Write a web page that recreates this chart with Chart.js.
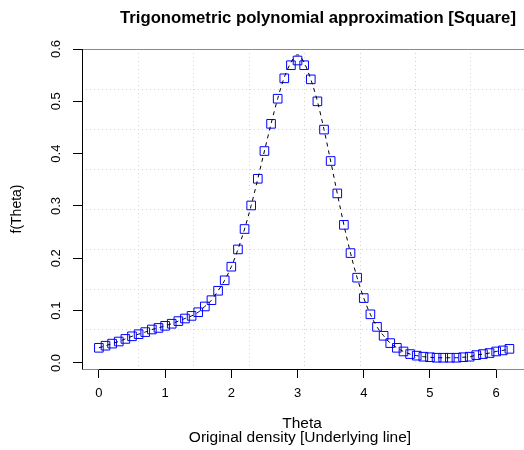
<!DOCTYPE html>
<html>
<head>
<meta charset="utf-8">
<script src="https://cdn.jsdelivr.net/npm/chart.js@4"></script>
<style>
  body { margin: 0; background: #fff; }
  #wrap { width: 524px; height: 450px; }
</style>
</head>
<body>
<div id="wrap"><canvas id="grafico" width="524" height="450"></canvas></div>
<script>
// Theta values of the sampled points
const theta = [0.0, 0.1, 0.2, 0.3, 0.4, 0.5, 0.6, 0.7, 0.8, 0.9,
               1.0, 1.1, 1.2, 1.3, 1.4, 1.5, 1.6, 1.7, 1.8, 1.9,
               2.0, 2.1, 2.2, 2.3, 2.4, 2.5, 2.6, 2.7, 2.8, 2.9,
               3.0, 3.1, 3.2, 3.3, 3.4, 3.5, 3.6, 3.7, 3.8, 3.9,
               4.0, 4.1, 4.2, 4.3, 4.4, 4.5, 4.6, 4.7, 4.8, 4.9,
               5.0, 5.1, 5.2, 5.3, 5.4, 5.5, 5.6, 5.7, 5.8, 5.9,
               6.0, 6.1, 6.2];

// Trigonometric polynomial approximation (squares)
const aproximacion = [0.029, 0.033, 0.037, 0.041, 0.046, 0.051, 0.055, 0.059, 0.064, 0.067,
                      0.071, 0.075, 0.080, 0.085, 0.090, 0.097, 0.108, 0.120, 0.138, 0.158,
                      0.184, 0.217, 0.256, 0.301, 0.352, 0.405, 0.457, 0.505, 0.544, 0.569,
                      0.578, 0.569, 0.542, 0.500, 0.446, 0.386, 0.324, 0.264, 0.210, 0.163,
                      0.124, 0.093, 0.069, 0.052, 0.038, 0.029, 0.022, 0.017, 0.014, 0.012,
                      0.011, 0.010, 0.010, 0.010, 0.010, 0.011, 0.012, 0.015, 0.017, 0.019,
                      0.022, 0.024, 0.027];

// Original density (dashed line)
const densidad = [0.029, 0.033, 0.037, 0.041, 0.046, 0.051, 0.055, 0.059, 0.064, 0.067,
                  0.071, 0.075, 0.080, 0.085, 0.090, 0.097, 0.108, 0.120, 0.138, 0.158,
                  0.184, 0.217, 0.256, 0.301, 0.352, 0.405, 0.457, 0.505, 0.546, 0.574,
                  0.589, 0.574, 0.542, 0.500, 0.446, 0.386, 0.324, 0.264, 0.210, 0.163,
                  0.124, 0.093, 0.069, 0.052, 0.038, 0.029, 0.022, 0.017, 0.014, 0.012,
                  0.011, 0.010, 0.010, 0.010, 0.010, 0.011, 0.012, 0.015, 0.017, 0.019,
                  0.022, 0.024, 0.027];

const xTicks = [0, 1, 2, 3, 4, 5, 6];
const yTicks = [0.0, 0.1, 0.2, 0.3, 0.4, 0.5, 0.6];
const yTickLabels = ['0.0', '0.1', '0.2', '0.3', '0.4', '0.5', '0.6'];

const fuente = "'Liberation Sans', Arial, Helvetica, sans-serif";

// R style plot region: 8 grid cells each way, box, axes and texts
const estiloR = {
    id: 'estiloR',
    beforeDatasetsDraw(chart) {
        const ctx = chart.ctx;
        const a = chart.chartArea;
        const x = chart.scales.x;
        const y = chart.scales.y;
        const xIni = -0.248, xFin = 6.448;
        const yIni = -0.0115, yFin = 0.6;
        ctx.save();
        ctx.strokeStyle = '#d3d3d3';
        ctx.lineWidth = 1;
        ctx.setLineDash([1, 3]);
        for (let i = 1; i < 8; i++) {
            const px = Math.round(x.getPixelForValue(xIni + (xFin - xIni) * i / 8)) + 0.5;
            if (px < a.right) {
                ctx.beginPath(); ctx.moveTo(px, a.top); ctx.lineTo(px, a.bottom); ctx.stroke();
            }
            const py = Math.round(y.getPixelForValue(yIni + (yFin - yIni) * i / 8)) + 0.5;
            ctx.beginPath(); ctx.moveTo(a.left, py); ctx.lineTo(a.right, py); ctx.stroke();
        }
        ctx.setLineDash([]);
        // caja gris
        ctx.strokeStyle = '#8a8a8a';
        ctx.beginPath();
        ctx.moveTo(a.left + 0.5, a.top + 0.5);
        ctx.lineTo(chart.width, a.top + 0.5);
        ctx.moveTo(a.left + 0.5, a.bottom + 0.5);
        ctx.lineTo(chart.width, a.bottom + 0.5);
        ctx.stroke();
        // ejes negros
        ctx.strokeStyle = '#000';
        ctx.beginPath();
        ctx.moveTo(a.left + 0.5, a.top);
        ctx.lineTo(a.left + 0.5, a.bottom + 0.5);
        ctx.moveTo(x.getPixelForValue(xTicks[0]), a.bottom + 0.5);
        ctx.lineTo(x.getPixelForValue(xTicks[xTicks.length - 1]), a.bottom + 0.5);
        ctx.stroke();
        ctx.restore();
    },
    afterDraw(chart) {
        const ctx = chart.ctx;
        const a = chart.chartArea;
        const y = chart.scales.y;
        ctx.save();
        ctx.fillStyle = '#000';
        ctx.textAlign = 'center';
        ctx.textBaseline = 'middle';

        ctx.font = 'bold 16.7px ' + fuente;
        ctx.fillText('Trigonometric polynomial approximation [Square]', 318, 18);

        ctx.font = '15.5px ' + fuente;
        ctx.fillText('Theta', 302, 424);
        ctx.fillText('Original density [Underlying line]', 300, 438);

        ctx.font = '14px ' + fuente;
        ctx.save();
        ctx.translate(17, (a.top + a.bottom) / 2);
        ctx.rotate(-Math.PI / 2);
        ctx.fillText('f(Theta)', 0, 0);
        ctx.restore();

        ctx.font = '13px ' + fuente;
        yTicks.forEach((v, i) => {
            ctx.save();
            ctx.translate(56, y.getPixelForValue(v));
            ctx.rotate(-Math.PI / 2);
            ctx.fillText(yTickLabels[i], 0, 0);
            ctx.restore();
        });
        ctx.restore();
    }
};

new Chart(document.getElementById('grafico'), {
    type: 'line',
    data: {
        datasets: [{
            label: 'Original density',
            data: theta.map((t, i) => ({ x: t, y: densidad[i] })),
            borderColor: '#000',
            borderWidth: 1,
            borderDash: [4, 4],
            pointRadius: 0,
            fill: false,
            cubicInterpolationMode: 'monotone'
        }, {
            label: 'Approximation',
            data: theta.map((t, i) => ({ x: t, y: aproximacion[i] })),
            showLine: false,
            pointStyle: 'rect',
            pointRadius: 6.1,
            borderColor: '#0000ff',
            backgroundColor: 'rgba(0,0,0,0)',
            pointBorderWidth: 1
        }]
    },
    options: {
        responsive: false,
        animation: false,
        layout: { autoPadding: false, padding: { top: 49, right: 0, bottom: 0, left: 0 } },
        plugins: {
            legend: { display: false },
            tooltip: { enabled: false },
            title: { display: false }
        },
        scales: {
            x: {
                type: 'linear',
                min: -0.255,
                max: 6.42,
                afterBuildTicks: s => { s.ticks = xTicks.map(v => ({ value: v })); },
                afterFit: s => { s.height = 81; s.paddingLeft = 0; s.paddingRight = 0; },
                border: { display: false },
                grid: { drawOnChartArea: false, drawTicks: true, tickLength: 9, color: '#000' },
                ticks: {
                    color: '#000',
                    padding: 8,
                    maxRotation: 0,
                    font: { family: fuente, size: 13 },
                    callback: v => String(v)
                }
            },
            y: {
                type: 'linear',
                min: -0.0115,
                max: 0.6,
                afterBuildTicks: s => { s.ticks = yTicks.map(v => ({ value: v })); },
                afterFit: s => { s.width = 82; s.paddingTop = 0; s.paddingBottom = 0; },
                border: { display: false },
                grid: { drawOnChartArea: false, drawTicks: true, tickLength: 9, color: '#000' },
                ticks: { display: false }
            }
        }
    },
    plugins: [estiloR]
});
</script>
</body>
</html>
